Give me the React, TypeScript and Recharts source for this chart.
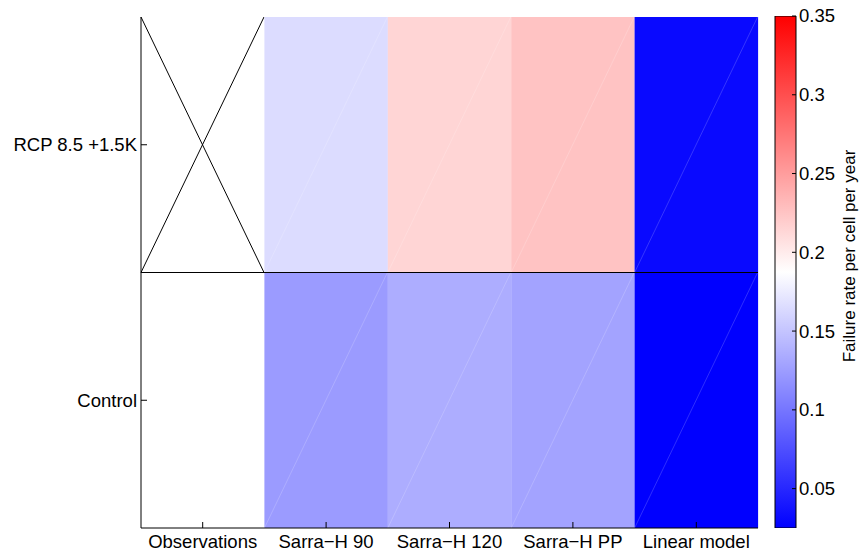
import React from 'react';
import { BarChart, Bar, XAxis, YAxis, ReferenceLine, Label } from 'recharts';

// ---- data ----
const models = ['Observations', 'Sarra\u2212H 90', 'Sarra\u2212H 120', 'Sarra\u2212H PP', 'Linear model'];
const rowLabels = ['Control', 'RCP 8.5 +1.5K'];
const controlRates = [0.1875, 0.124, 0.135, 0.129, 0.02];
const rcpRates: (number | null)[] = [null, 0.165, 0.214, 0.226, 0.031];
const cbMin = 0.025;
const cbMax = 0.35;
const cbTicks = [0.05, 0.1, 0.15, 0.2, 0.25, 0.3, 0.35];
const rowTicks = [0.5, 1.5];
const colorbarLabel = 'Failure rate per cell per year';

const FONT = '"Liberation Sans", Arial, Helvetica, sans-serif';
const FS = 18.5;

function rateColor(v: number | null): string {
  if (v === null || v === undefined) return '#ffffff';
  let t = (v - cbMin) / (cbMax - cbMin);
  t = Math.max(0, Math.min(1, t));
  if (t <= 0.5) {
    const c = Math.round(255 * (t / 0.5));
    return `rgb(${c},${c},255)`;
  }
  const c = Math.round(255 * (1 - (t - 0.5) / 0.5));
  return `rgb(255,${c},${c})`;
}

const data = models.map((m, i) => ({
  model: m,
  control: controlRates[i],
  rcp: rcpRates[i],
  controlSpan: 1,
  rcpSpan: 1,
}));

const cbData = [{ k: 'cb', range: [cbMin, cbMax] }];

const makeCellShape = (key: 'control' | 'rcp') => (props: any) => {
  const { x, y, width, height, payload } = props;
  const v = payload[key];
  const fill = rateColor(v);
  if (v === null || v === undefined) {
    return (
      <g>
        <rect x={x} y={y} width={width} height={height} fill="#ffffff" />
        <line x1={x} y1={y} x2={x + width} y2={y + height} stroke="#000" strokeWidth={1} />
        <line x1={x} y1={y + height} x2={x + width} y2={y} stroke="#000" strokeWidth={1} />
      </g>
    );
  }
  return (
    <g>
      <rect x={x} y={y} width={width + 0.5} height={height} fill={fill} />
      <line x1={x} y1={y + height} x2={x + width} y2={y} stroke="#ffffff" strokeOpacity={0.3} strokeWidth={0.6} />
    </g>
  );
};

const BottomTick = (props: any) => {
  const { x, y, payload } = props;
  return (
    <g>
      <line x1={x} x2={x} y1={y} y2={y - 6} stroke="#000" />
      <text x={x} y={y + 20} textAnchor="middle" fontSize={FS} fontFamily={FONT} fill="#000">
        {payload.value}
      </text>
    </g>
  );
};

const TopTick = (props: any) => {
  const { x, y } = props;
  return <line x1={x} x2={x} y1={y} y2={y + 6} stroke="#000" />;
};

const LeftTick = (props: any) => {
  const { x, y, payload } = props;
  return (
    <g>
      <line x1={x} x2={x + 6} y1={y} y2={y} stroke="#000" />
      <text x={x - 4} y={y} dy="0.35em" textAnchor="end" fontSize={FS} fontFamily={FONT} fill="#000">
        {rowLabels[Math.floor(payload.value)]}
      </text>
    </g>
  );
};

const RightTick = (props: any) => {
  const { x, y } = props;
  return <line x1={x} x2={x - 6} y1={y} y2={y} stroke="#000" />;
};

const CbLeftTick = (props: any) => {
  const { x, y } = props;
  return <line x1={x} x2={x + 4} y1={y} y2={y} stroke="#000" />;
};

const CbRightTick = (props: any) => {
  const { x, y, payload } = props;
  return (
    <g>
      <line x1={x} x2={x - 4} y1={y} y2={y} stroke="#000" />
      <text x={x + 3} y={y} dy="0.35em" textAnchor="start" fontSize={FS} fontFamily={FONT} fill="#000">
        {String(payload.value)}
      </text>
    </g>
  );
};

const renderCbLabel = (props: any) => {
  const vb = props.viewBox || {};
  const cx = vb.x + 53;
  const cy = vb.y + vb.height / 2 - 16;
  return (
    <text
      x={cx}
      y={cy}
      transform={`rotate(-90, ${cx}, ${cy})`}
      textAnchor="middle"
      dy="0.35em"
      fontSize={17}
      fontFamily={FONT}
      fill="#000"
    >
      {colorbarLabel}
    </text>
  );
};

export default function App() {
  return (
    <div style={{ position: 'absolute', left: 0, top: 0, width: 863, height: 554, background: '#fff' }}>
      <div style={{ position: 'absolute', left: 0, top: 0 }}>
        <BarChart
          width={863}
          height={554}
          data={data}
          margin={{ top: 17, right: 105, bottom: 0, left: 0 }}
          barCategoryGap={0}
          barGap={0}
        >
          <XAxis
            dataKey="model"
            height={26}
            tickLine={false}
            tickSize={0}
            tickMargin={0}
            axisLine={{ stroke: '#000' }}
            tick={<BottomTick />}
            interval={0}
          />
          <XAxis
            xAxisId="top"
            dataKey="model"
            orientation="top"
            height={0}
            tickLine={false}
            tickSize={0}
            tickMargin={0}
            axisLine={{ stroke: '#000' }}
            tick={<TopTick />}
            interval={0}
          />
          <YAxis
            type="number"
            domain={[0, 2]}
            ticks={rowTicks}
            width={141}
            tickLine={false}
            tickSize={0}
            tickMargin={0}
            axisLine={{ stroke: '#000' }}
            tick={<LeftTick />}
          />
          <YAxis
            yAxisId="r"
            orientation="right"
            type="number"
            domain={[0, 2]}
            ticks={rowTicks}
            width={0}
            tickLine={false}
            tickSize={0}
            tickMargin={0}
            axisLine={{ stroke: '#000' }}
            tick={<RightTick />}
          />
          <Bar dataKey="controlSpan" stackId="s" isAnimationActive={false} shape={makeCellShape('control')} />
          <Bar dataKey="rcpSpan" stackId="s" isAnimationActive={false} shape={makeCellShape('rcp')} />
          <ReferenceLine y={1} stroke="#000" strokeWidth={1} />
        </BarChart>
      </div>
      <div style={{ position: 'absolute', left: 0, top: 0 }}>
        <BarChart
          width={863}
          height={554}
          data={cbData}
          margin={{ top: 16, right: 0, bottom: 26, left: 775 }}
          barCategoryGap={0}
          barGap={0}
        >
          <defs>
            <linearGradient id="cbGrad" x1="0" y1="0" x2="0" y2="1">
              <stop offset="0%" stopColor="#ff0000" />
              <stop offset="50%" stopColor="#ffffff" />
              <stop offset="100%" stopColor="#0000ff" />
            </linearGradient>
          </defs>
          <XAxis dataKey="k" hide />
          <YAxis
            yAxisId="cbL"
            orientation="left"
            type="number"
            domain={[cbMin, cbMax]}
            ticks={cbTicks}
            width={0}
            allowDataOverflow
            tickLine={false}
            tickSize={0}
            tickMargin={0}
            axisLine={false}
            tick={<CbLeftTick />}
          />
          <YAxis
            yAxisId="cb"
            orientation="right"
            type="number"
            domain={[cbMin, cbMax]}
            ticks={cbTicks}
            width={67}
            allowDataOverflow
            tickLine={false}
            tickSize={0}
            tickMargin={0}
            axisLine={false}
            tick={<CbRightTick />}
          >
            <Label content={renderCbLabel} />
          </YAxis>
          <Bar dataKey="range" yAxisId="cb" fill="url(#cbGrad)" stroke="#000" strokeWidth={1} isAnimationActive={false} />
        </BarChart>
      </div>
    </div>
  );
}
